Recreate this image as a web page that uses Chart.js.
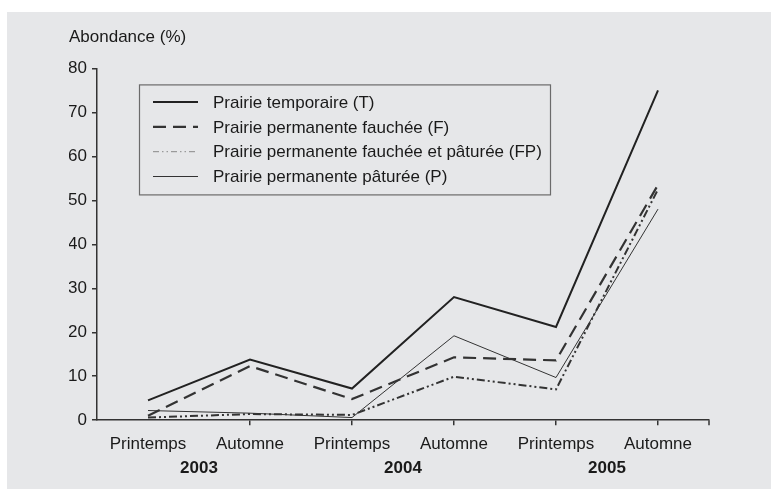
<!DOCTYPE html>
<html>
<head>
<script src="https://cdn.jsdelivr.net/npm/chart.js@4/dist/chart.umd.min.js"></script>
<style>
  body { margin: 0; background: #ffffff; }
  #cadre { position: absolute; left: 7px; top: 12px; width: 764px; height: 477px; background: #e6e7e9; }
</style>
</head>
<body>
<div id="cadre">
  <canvas id="graphique" width="764" height="477"></canvas>
</div>
<script>
// donnees
const saisons = ['Printemps', 'Automne', 'Printemps', 'Automne', 'Printemps', 'Automne'];
const annees = ['2003', '2004', '2005'];
const prairieT = [4.5, 13.8, 7.2, 28.0, 21.2, 75.0];
const prairieF = [1.0, 12.3, 4.8, 14.3, 13.6, 53.5];
const prairieFP = [0.6, 1.4, 1.2, 9.9, 7.0, 52.5];
const prairieP = [2.2, 1.6, 0.6, 19.2, 9.7, 48.0];
const nomsSeries = [
  'Prairie temporaire (T)',
  'Prairie permanente fauchée (F)',
  'Prairie permanente fauchée et pâturée (FP)',
  'Prairie permanente pâturée (P)'
];

const police = 'Arial, "Liberation Sans", sans-serif';
const encre = '#1a1a1a';

// legende encadree dans la zone du graphique
const legendeCadre = {
  id: 'legendeCadre',
  afterDatasetsDraw(chart) {
    const ctx = chart.ctx;
    const zone = chart.chartArea;
    const x0 = zone.left + 42, y0 = zone.top + 16;
    ctx.save();
    ctx.fillStyle = '#e6e7e9';
    ctx.fillRect(x0, y0, 411, 110);
    ctx.strokeStyle = '#6b6b6b';
    ctx.lineWidth = 1.2;
    ctx.strokeRect(x0 + 0.5, y0 + 0.5, 411, 110);
    chart.data.datasets.forEach((ds, i) => {
      const y = y0 + 17.7 + i * 24.8;
      ctx.beginPath();
      ctx.setLineDash(ds.legendDash || ds.borderDash || []);
      ctx.lineWidth = ds.legendWidth || ds.borderWidth;
      ctx.strokeStyle = ds.legendColor || ds.borderColor;
      ctx.moveTo(x0 + 14, y);
      ctx.lineTo(x0 + 59, y);
      ctx.stroke();
      ctx.setLineDash([]);
      ctx.fillStyle = encre;
      ctx.font = '17px ' + police;
      ctx.textBaseline = 'middle';
      ctx.fillText(ds.label, x0 + 74, y + 1);
    });
    ctx.restore();
  },
  afterDraw(chart) {
    // petite graduation en bout d'axe
    const ctx = chart.ctx;
    const x = chart.scales.x;
    ctx.save();
    ctx.strokeStyle = '#333';
    ctx.lineWidth = 1.5;
    ctx.beginPath();
    ctx.moveTo(x.right, x.top);
    ctx.lineTo(x.right, x.top + 5);
    ctx.stroke();
    ctx.restore();
  }
};

new Chart(document.getElementById('graphique'), {
  type: 'line',
  data: {
    labels: saisons,
    datasets: [
      {
        label: nomsSeries[0], data: prairieT,
        borderColor: '#222', borderWidth: 2
      },
      {
        label: nomsSeries[1], data: prairieF,
        borderColor: '#333', borderWidth: 2.2, borderDash: [13, 7]
      },
      {
        label: nomsSeries[2], data: prairieFP,
        borderColor: '#333', borderWidth: 2, borderDash: [8, 3, 2, 3, 2, 3],
        legendWidth: 1, legendColor: '#888', legendDash: [6, 3, 1.5, 3, 1.5, 3]
      },
      {
        label: nomsSeries[3], data: prairieP,
        borderColor: '#333', borderWidth: 1
      }
    ]
  },
  options: {
    responsive: false,
    animation: false,
    devicePixelRatio: 1,
    elements: { point: { radius: 0 }, line: { tension: 0 } },
    layout: { padding: { left: 62, right: 62, top: 0, bottom: 7 } },
    plugins: {
      legend: { display: false },
      tooltip: { enabled: false },
      title: {
        display: true,
        text: 'Abondance (%)',
        align: 'start',
        color: encre,
        font: { family: police, size: 17, weight: 'normal' },
        padding: { top: 15, bottom: 21 }
      }
    },
    scales: {
      x: {
        offset: true,
        afterFit(s) { s.height = s.height - 8; },
        grid: {
          drawOnChartArea: false, tickLength: 5, lineWidth: 1.5,
          color: (c) => c.index === 0 ? 'rgba(0,0,0,0)' : '#333'
        },
        border: { color: '#333', width: 1.5 },
        ticks: { color: encre, padding: 9, maxRotation: 0, font: { family: police, size: 17 } }
      },
      x2: {
        type: 'category',
        labels: annees,
        position: 'bottom',
        offset: true,
        grid: { display: false, drawTicks: false },
        border: { display: false },
        ticks: { color: encre, padding: 3, maxRotation: 0, font: { family: police, size: 17, weight: 'bold' } }
      },
      y: {
        min: 0, max: 80,
        afterFit(s) { s.width = 28; },
        grid: { drawOnChartArea: false, tickLength: 5, color: '#333', lineWidth: 1.5 },
        border: { color: '#333', width: 1.5 },
        ticks: { stepSize: 10, color: encre, padding: 5, font: { family: police, size: 17 } }
      }
    }
  },
  plugins: [legendeCadre]
});
</script>
</body>
</html>
